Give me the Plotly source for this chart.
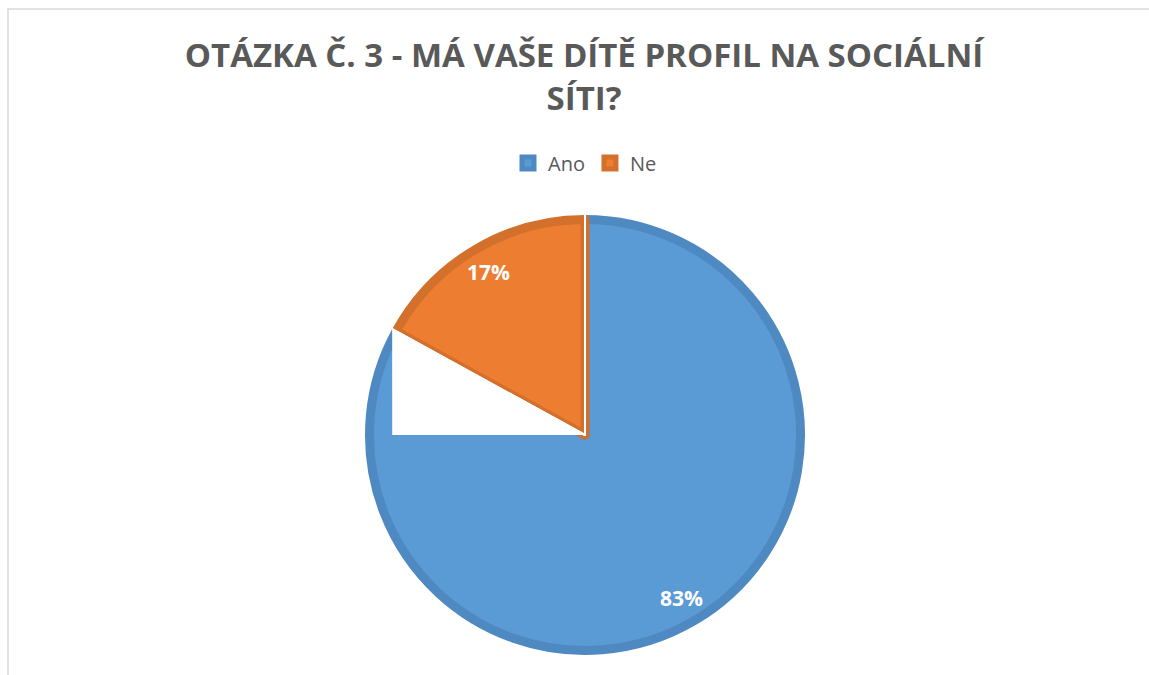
import math
import plotly.graph_objects as go

# ---- data ----
labels = ["Ano", "Ne"]
values = [83, 17]
text_labels = ["83%", "17%"]
title_text = "OTÁZKA Č. 3 - MÁ VAŠE DÍTĚ PROFIL NA SOCIÁLNÍ<br>SÍTI?"

# ---- styling ----
W, H = 1149, 675
fill_colors = ["#5B9BD5", "#ED7D31"]
edge_colors = ["#4F89C2", "#D3702C"]
text_gray = "#595959"

cx, cy = 585, 435          # pie centre in pixels (from top-left)
R_vis = 220                # visible outer radius
edge_w = 9                 # border width
R_plot = R_vis - edge_w / 2
label_r = 0.86             # label distance as fraction of radius


def domain_for(r):
    return dict(
        x=[(cx - r) / W, (cx + r) / W],
        y=[(H - cy - r) / H, (H - cy + r) / H],
    )


def px(x):
    return x / W


def py(y):
    return 1 - y / H


fig = go.Figure()

fig.add_trace(go.Pie(
    labels=labels,
    values=values,
    textinfo="none",
    marker=dict(colors=fill_colors, line=dict(color=edge_colors, width=edge_w)),
    sort=False,
    direction="clockwise",
    rotation=0,
    domain=domain_for(R_plot),
    hoverinfo="label+percent",
))

# thin white separators between slices
fig.add_trace(go.Pie(
    labels=labels,
    values=values,
    textinfo="none",
    marker=dict(colors=["rgba(0,0,0,0)", "rgba(0,0,0,0)"], line=dict(color="white", width=2)),
    sort=False,
    direction="clockwise",
    rotation=0,
    domain=domain_for(R_vis + 4),
    showlegend=False,
    hoverinfo="skip",
))

# data labels placed along each slice's bisector
total = sum(values)
annotations = []
cum = 0
for v, t in zip(values, text_labels):
    mid = 2 * math.pi * (cum + v / 2) / total
    cum += v
    lx = cx + label_r * R_vis * math.sin(mid)
    ly = cy - label_r * R_vis * math.cos(mid)
    annotations.append(dict(
        x=px(lx), y=py(ly), xref="paper", yref="paper",
        text=t, showarrow=False, xanchor="center", yanchor="middle",
        font=dict(family="Open Sans", size=21, color="white", weight="bold"),
    ))

# white rendering gap below the small slice (derived from slice angle)
a = 2 * math.pi * values[1] / total
xl = cx - R_vis * math.sin(a)
yl = cy - R_vis * math.cos(a)
tri = f"M {px(cx)} {py(cy)} L {px(xl)} {py(cy)} L {px(xl)} {py(yl)} Z"

shapes = [
    dict(type="path", path=tri, xref="paper", yref="paper",
         fillcolor="white", line=dict(width=0), layer="above"),
    dict(type="rect", xref="paper", yref="paper",
         x0=8 / W, x1=1.2, y0=-0.2, y1=1 - 9 / H,
         line=dict(color="#D9D9D9", width=1.5), fillcolor="rgba(0,0,0,0)", layer="below"),
]

fig.update_layout(
    width=W, height=H,
    margin=dict(l=0, r=0, t=0, b=0),
    paper_bgcolor="white",
    plot_bgcolor="white",
    font=dict(family="Open Sans", color=text_gray),
    title=dict(
        text=title_text,
        x=584 / W, xanchor="center",
        y=1 - 67 / H, yanchor="top",
        font=dict(family="Open Sans", size=33, color=text_gray, weight="bold"),
    ),
    legend=dict(
        orientation="h",
        x=585 / W, xanchor="center",
        y=1 - 163 / H, yanchor="middle",
        font=dict(family="Open Sans", size=20, color=text_gray),
        bgcolor="rgba(0,0,0,0)",
    ),
    annotations=annotations,
    shapes=shapes,
)

fig.write_html("out.html", config={"displayModeBar": False},
               post_script="document.body.style.margin='0';")
